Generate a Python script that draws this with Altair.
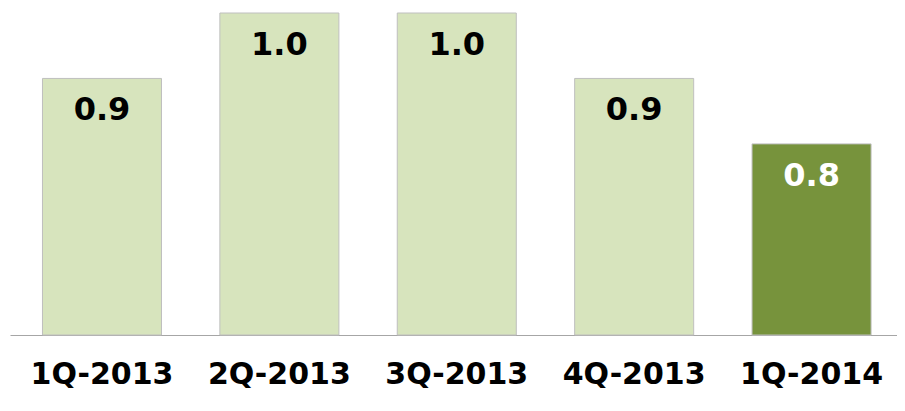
import altair as alt
import pandas as pd

quarters = ["1Q-2013", "2Q-2013", "3Q-2013", "4Q-2013", "1Q-2014"]
values = [0.9, 1.0, 1.0, 0.9, 0.8]
labels = ["0.9", "1.0", "1.0", "0.9", "0.8"]
highlight = "1Q-2014"
y_min = 0.508

df = pd.DataFrame({"quarter": quarters, "value": values, "label": labels})

FONT = "DejaVu Sans"
is_hi = alt.datum.quarter == highlight

x = alt.X("quarter:N", sort=quarters, title=None,
          scale=alt.Scale(paddingInner=0.329, paddingOuter=0.1646, align=0.556),
          axis=alt.Axis(labelAngle=0, labelFont=FONT, labelFontSize=30,
                        labelFontWeight="bold", labelColor="#000000",
                        labelPadding=24, ticks=False, domainColor="#a6a6a6",
                        domainWidth=1.2))
y = alt.Y("value:Q", title=None,
          scale=alt.Scale(domain=[y_min, 1.0], zero=False, nice=False),
          axis=None)

bars = alt.Chart(df).mark_bar(stroke="#bfbfbf", strokeWidth=1).encode(
    x=x, y=y, y2=alt.datum(y_min),
    color=alt.condition(is_hi, alt.value("#77933c"), alt.value("#d7e4bd")),
)

text = alt.Chart(df).mark_text(font=FONT, fontSize=32, fontWeight="bold",
                               baseline="middle", dy=32).encode(
    x=alt.X("quarter:N", sort=quarters),
    y=alt.Y("value:Q"),
    text="label:N",
    color=alt.condition(is_hi, alt.value("#ffffff"), alt.value("#000000")),
)

chart = (bars + text).properties(
    width=887, height=322,
    autosize=alt.AutoSizeParams(type="none"),
    padding={"left": 2, "top": 5, "right": 0, "bottom": 60},
).configure_view(stroke=None)

chart.save("out.html", embed_options={"renderer": "svg", "actions": False})
